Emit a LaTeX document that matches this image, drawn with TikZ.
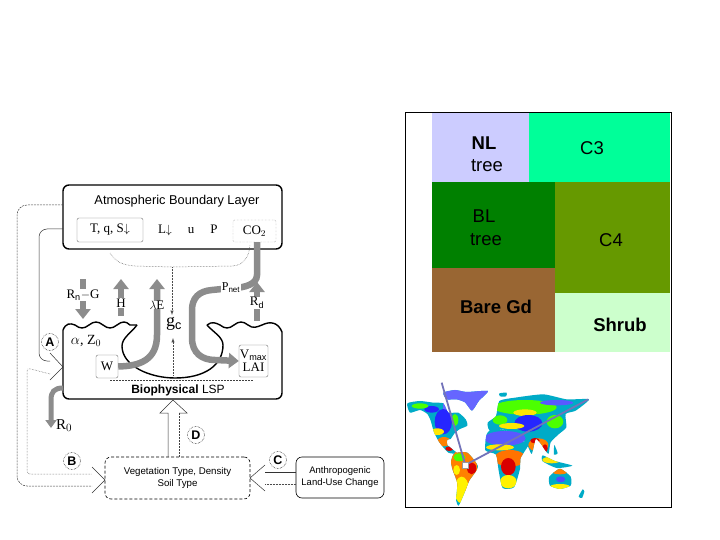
\documentclass[tikz,border=0pt]{standalone}
\usepackage{fontspec}
\setmainfont{Liberation Sans}
\newfontfamily\serifface{Liberation Serif}
\usetikzlibrary{calc,arrows.meta}
\tikzset{
   layer box/.style={draw=black, line width=1.4pt, rounded corners=6pt},
   inner box/.style={rectangle, draw=black!55, line width=0.4pt, rounded corners=2pt, inner sep=0pt, align=center, font=\serifface\fontsize{13}{14}\selectfont},
   info box/.style={rectangle, draw=black, densely dashed, line width=0.6pt, rounded corners=6pt, inner sep=0pt, align=center},
   var label/.style={inner sep=0.5pt, fill=white, font=\serifface\fontsize{13}{14}\selectfont},
   var plain/.style={inner sep=0pt, font=\serifface\fontsize{13}{14}\selectfont},
   letter/.style={circle, draw=black, densely dotted, line width=0.5pt, inner sep=0pt, minimum size=17pt, font=\fontsize{12.5}{14}\selectfont\bfseries},
   flux/.style={draw=black!45, line width=6.5pt, -{Triangle[width=15pt,length=10pt]}},
   thin link/.style={draw=black!80, line width=0.5pt},
   dash link/.style={draw=black!75, line width=0.5pt, dash pattern=on 2pt off 1pt},
   dot link/.style={draw=black!70, line width=0.5pt, densely dotted},
   pft label/.style={inner sep=0pt, align=center, font=\fontsize{18.5}{20}\selectfont},
   track/.style={draw=black!50!blue!55, line width=1.8pt},
   >=latex
}
\newcommand{\landshapes}{
  plot[smooth cycle,tension=0.35] coordinates {(22,100) (60,93) (100,98) (130,100) (145,128) (175,128) (197,148) (202,167) (178,178) (162,192) (152,207) (142,209) (142,225) (172,250) (145,248) (118,217) (102,187) (92,152) (82,132) (60,120) (30,128)}
  plot[smooth cycle,tension=0.35] coordinates {(130,68) (165,60) (200,66) (264,63) (237,92) (216,122) (195,97) (170,88) (140,88)}
  plot[smooth cycle,tension=0.35] coordinates {(163,250) (202,248) (234,290) (208,332) (192,372) (176,407) (168,390) (172,340) (158,300) (153,275)}
  plot[smooth cycle,tension=0.35] coordinates {(260,193) (280,176) (345,188) (367,213) (387,222) (362,264) (360,297) (342,352) (308,354) (296,302) (288,254) (256,241)}
  plot[smooth cycle,tension=0.35] coordinates {(268,180) (263,158) (288,138) (298,93) (345,83) (430,73) (500,88) (567,88) (527,122) (497,132) (499,172) (477,192) (452,217) (445,252) (423,222) (407,207) (395,252) (378,217) (355,207) (345,188) (300,177)}
  plot[smooth cycle,tension=0.35] coordinates {(448,320) (480,296) (512,320) (512,347) (480,357) (450,347)}
  plot[smooth cycle,tension=0.35] coordinates {(428,256) (465,273) (517,287) (470,294) (428,274)}
  plot[smooth cycle,tension=0.35] coordinates {(536,380) (548,358) (553,365) (546,384)}
  plot[smooth cycle,tension=0.35] coordinates {(298,70) (320,68) (318,79) (300,79)}
  plot[smooth cycle,tension=0.35] coordinates {(463,225) (473,250) (462,254)}
}
\begin{document}
\begin{tikzpicture}[x=1pt,y=-1pt]
  \useasboundingbox (0,0) rectangle (720,540);

  %%%%%%%%%%% plant functional types

  \fill[fill={rgb,255:red,204;green,204;blue,255}] (432,113) rectangle (529,182);
  \fill[fill={rgb,255:red,0;green,255;blue,153}]   (529,113) rectangle (670,182);
  \fill[fill={rgb,255:red,0;green,128;blue,0}]     (432,182) rectangle (555,268);
  \fill[fill={rgb,255:red,102;green,153;blue,0}]   (555,182) rectangle (670,293);
  \fill[fill={rgb,255:red,153;green,102;blue,51}]  (432,268) rectangle (555,352);
  \fill[fill={rgb,255:red,204;green,255;blue,204}] (555,293) rectangle (670,352);
  \draw[black,line width=0.7pt] (405,112) rectangle (671,507);

  \node[pft label] at (484,143) (nl)    {\bfseries NL};
  \node[pft label] at (487,166) (nl t)  {tree};
  \node[pft label] at (592,148) (cthree) {C3};
  \node[pft label] at (484,216) (bl)    {BL};
  \node[pft label] at (486,240) (bl t)  {tree};
  \node[pft label] at (611,240) (cfour) {C4};
  \node[pft label] at (496,307) (bare)  {\bfseries Bare Gd};
  \node[pft label] at (620,325) (shrub) {\bfseries Shrub};

  %%%%%%%%%%% map

  \begin{scope}[shift={(400,370)},x=0.3333pt,y=-0.3333pt]
    \begin{scope}
      \clip \landshapes;
      \fill[cyan!75!green] (0,40) rectangle (600,420);
      \fill[blue!60!white] (130,50) rectangle (270,125);
      \fill[blue!85] (95,118) ellipse (22 and 10);
      \fill[blue!85] (130,155) ellipse (26 and 38);
      \fill[green!70!yellow] (60,108) ellipse (25 and 8);
      \fill[green!70!yellow] (165,150) ellipse (10 and 18);
      \fill[yellow!90!orange] (112,185) ellipse (20 and 10);
      \fill[orange] (132,215) ellipse (20 and 14);
      \fill[red!85!black] (148,236) ellipse (12 and 7);
      \fill[orange] (190,300) ellipse (42 and 65);
      \fill[yellow] (185,360) ellipse (22 and 40);
      \fill[red!85!black] (215,295) ellipse (14 and 18);
      \fill[green!70!yellow] (178,262) ellipse (18 and 12);
      \fill[yellow] (170,300) ellipse (10 and 15);
      \fill[blue!65] (315,205) ellipse (62 and 22);
      \fill[yellow!90!orange] (300,232) ellipse (42 and 9);
      \fill[orange!90!red] (330,265) ellipse (48 and 25);
      \fill[red!85!black] (325,290) ellipse (22 and 26);
      \fill[yellow] (325,335) ellipse (25 and 20);
      \fill[green!70!yellow] (375,112) ellipse (95 and 22);
      \fill[yellow!90!orange] (375,128) ellipse (35 and 10);
      \fill[green!70!yellow] (300,150) ellipse (22 and 14);
      \fill[blue!85] (385,160) ellipse (42 and 25);
      \fill[blue!65] (470,98) ellipse (50 and 8);
      \fill[green!70!yellow] (465,155) ellipse (25 and 20);
      \fill[yellow!90!orange] (335,168) ellipse (38 and 9);
      \fill[orange] (415,225) ellipse (30 and 20);
      \fill[red!85!black] (405,212) ellipse (14 and 8);
      \fill[red!85!black] (435,235) ellipse (8 and 12);
      \fill[yellow!90!orange] (455,270) ellipse (28 and 10);
      \fill[orange] (480,305) ellipse (24 and 8);
      \fill[yellow] (480,350) ellipse (30 and 8);
      \fill[blue!70] (482,328) ellipse (14 and 9);
    \end{scope}
    \coordinate (amazon) at (196,285);
    \coordinate (north end) at (125,38);
    \coordinate (east end) at (565,88);
    \draw[track] (north end) -- (amazon);
    \draw[track] (east end) -- (amazon);
    \node[fill=white,draw=black!40,line width=0.2pt,inner sep=0pt,minimum size=6pt] at (amazon) (site) {};
  \end{scope}

  %%%%%%%%%%% boxes

  \draw[layer box] (63,249) rectangle (282,185);
  \node at (177,201) (atm label) {\fontsize{12.8}{14}\selectfont Atmospheric Boundary Layer};
  \node[inner box,minimum width=66pt,minimum height=24pt] at (110,230) (tqs) {T, q, S$\downarrow$};
  \node[inner box,minimum width=43pt,minimum height=22pt,densely dotted] at (254.5,231) (co2) {CO$_2$};
  \node[var plain] at (165,230) (ldown) {L$\downarrow$};
  \node[var plain] at (191,231) (u) {u};
  \node[var plain] at (214,229) (p) {P};

  \draw[line width=1.4pt]
     (137,325) .. controls (131,333) and (122,338) .. (122,346) .. controls (122,366) and (150,378) .. (175,378)
     .. controls (205,378) and (223,365) .. (223,345) .. controls (223,337) and (213,332) .. (207,325);
  \draw[line width=1.4pt] (63,330) .. controls (66,323) and (70,323) .. (75,325)
     .. controls (80,329) and (84,329) .. (89,325) .. controls (94,321) and (98,321) .. (103,325)
     .. controls (108,329) and (112,329) .. (117,325) .. controls (122,321) and (126,321) .. (130,325) -- (137,325);
  \draw[line width=1.4pt] (207,325) .. controls (212,321) and (216,323) .. (220,325)
     .. controls (225,329) and (229,329) .. (234,325) .. controls (239,321) and (243,321) .. (248,325)
     .. controls (253,329) and (257,327) .. (262,325) .. controls (270,321) and (278,322) .. (282,332);
  \draw[line width=1.4pt,rounded corners=6pt] (63,330) -- (63,399) -- (282,399) -- (282,332);
  \node[inner box,minimum width=22pt,minimum height=23pt] at (107,366.5) (water) {W};
  \node[inner box,minimum width=29pt,minimum height=32pt] at (253.5,361) (vmax) {V$_{\mathrm{max}}$\\[-1pt]LAI};
  \node at (178,390) (bio label) {\fontsize{12}{14}\selectfont\textbf{Biophysical} LSP};
  \node[info box,minimum width=145pt,minimum height=42pt] at (177.5,478) (veg) {\fontsize{9.7}{11}\selectfont Vegetation Type, Density\\\fontsize{9.7}{11}\selectfont Soil Type};
  \node[info box,minimum width=88pt,minimum height=41pt,solid] at (340,477.5) (landuse) {\fontsize{9.5}{12.5}\selectfont Anthropogenic\\\fontsize{9.5}{12.5}\selectfont Land-Use Change};

  %%%%%%%%%%% anchors of the links

  \coordinate (rn top) at (83,279);
  \coordinate (rn end) at (83,319);
  \coordinate (h base) at (121,316);
  \coordinate (h end) at (121,279);
  \coordinate (rd base) at (257,321);
  \coordinate (rd end) at (257,282);
  \coordinate (le end) at (157,279);
  \coordinate (ro start) at (63,388);
  \coordinate (ro end) at (51,428);
  \coordinate (split) at (172,267);
  \coordinate (gc end) at (172,315);
  \coordinate (gc low) at (173,375);
  \coordinate (gc up) at (173,338);

  \coordinate (a tip) at (63,367);
  \coordinate (b tip) at (105,480);
  \coordinate (c tip) at (250,478);
  \coordinate (d tip) at (173,400);

  %%%%%%%%%%% fluxes

  \draw[flux] (rn top) -- (rn end);
  \draw[flux] (h base) -- (h end);
  \draw[flux] (rd base) -- (rd end);
  \draw[flux] (water.east) .. controls (140,366) and (157,360) .. (157,335) -- (le end);
  \draw[flux] (co2.south) ++(2.5,0) -- (257,275) .. controls (257,284) and (245,288) .. (232,288)
     -- (212,290) .. controls (199,291) and (192,298) .. (192,310) -- (192,338)
     .. controls (192,353) and (202,360) .. (215,360) -- (vmax.west);
  \draw[flux,line width=5pt,-{Triangle[width=11pt,length=8pt]}] (ro start) .. controls (54,388) and (51,392) .. (51,400) -- (ro end);

  \node[var label] at (83,295) (rn) {R$_{\mathrm{n}}$$-$G};
  \node[var label] at (121,303) (h) {H};
  \node[var label,font=\serifface\fontsize{12}{13}\selectfont] at (231,288) (pnet) {P$_{\mathrm{net}}$};
  \node[var label] at (257,303) (rd) {R$_{\mathrm{d}}$};
  \node[var label,inner sep=0pt] at (157,305) (le) {$\lambda$E};
  \node[var plain,font=\serifface\fontsize{18}{20}\selectfont] at (174,324) (gc) {g$_{\mathrm{c}}$};
  \node[var plain,font=\serifface\fontsize{15}{16}\selectfont] at (64,426) (ro) {R$_0$};
  \node[var plain,font=\serifface\fontsize{14}{16}\selectfont] at (86,341) (alb) {$\alpha$, Z$_0$};

  %%%%%%%%%%% links

  \draw[dot link] (110,253) .. controls (116,262) and (122,265) .. (135,266) -- (split) -- (233,266)
     .. controls (243,265) and (249,258) .. (250,245);
  \draw[dot link,->] (split) -- (gc end);
  \draw[dot link,->] (gc low) -- (gc up);
  \draw[dash link] (110,380) -- (253,380);

  \draw[thin link,rounded corners=8pt] (63,229) -- (39,229) -- (39,361) -- (50,361);
  \draw[dot link,rounded corners=3pt] (50,374) -- (27,368) -- (27,474) -- (92,474);
  \draw[dash link,rounded corners=10pt] (63,205) -- (17,205) -- (17,486) -- (92,486);
  \draw[thin link] (50,353) -- (a tip) -- (50,380);
  \draw[thin link] (92,467) -- (b tip) -- (92,493);

  \draw[thin link] (168,457) -- (168,413) -- (160,413) -- (d tip) -- (187,413) -- (179,413);
  \draw[dash link] (179,413) -- (179,457);

  \draw[thin link] (265,465) -- (c tip) -- (265,491);
  \draw[thin link] (265,472) -- (296,472);
  \draw[dot link] (265,484) -- (296,484);

  %%%%%%%%%%% letters

  \node[letter] at (50,342) (a) {A};
  \node[letter] at (72,461) (b) {B};
  \node[letter] at (278,460) (c) {C};
  \node[letter] at (196,435) (d) {D};

\end{tikzpicture}
\end{document}
